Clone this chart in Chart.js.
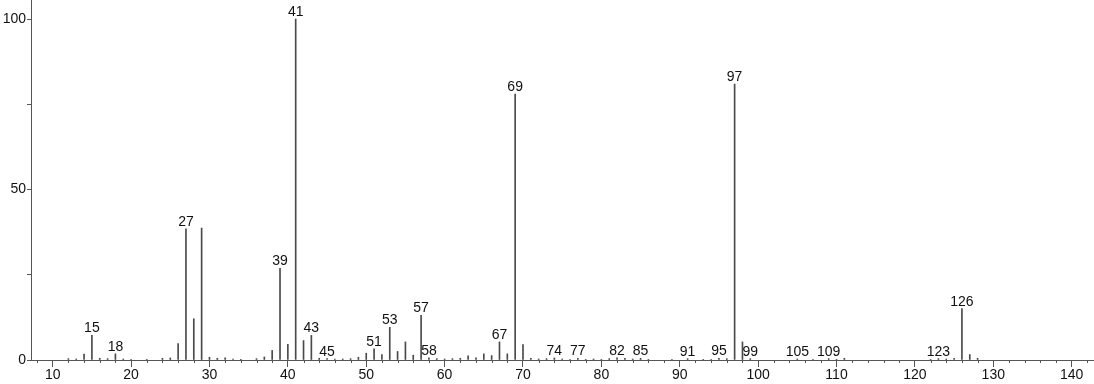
<!DOCTYPE html>
<html>
<head>
<meta charset="utf-8">
<script src="https://cdn.jsdelivr.net/npm/chart.js@4/dist/chart.umd.min.js"></script>
<style>
  body { margin: 0; background: #fff; }
  #wrap { width: 1094px; height: 384px; position: relative; }
</style>
</head>
<body>
<div id="wrap"><canvas id="spectrum"></canvas></div>
<script>
// m/z values and relative intensities
const mz = [12, 13, 14, 15, 16, 17, 18, 19, 20, 22, 24, 25, 26, 27, 28, 29, 30, 31, 32, 33,
            34, 36, 37, 38, 39, 40, 41, 42, 43, 44, 45, 46, 47, 48, 49, 50, 51, 52, 53, 54,
            55, 56, 57, 58, 59, 60, 61, 62, 63, 64, 65, 66, 67, 68, 69, 70, 71, 72, 73, 74,
            75, 76, 77, 78, 79, 80, 81, 82, 83, 84, 85, 86, 89, 91, 93, 94, 95, 96, 97, 98,
            99, 105, 107, 109, 110, 111, 122, 123, 124, 125, 126, 127, 128];
const intensity = [0.4, 0.3, 1.7, 7.2, 0.5, 0.4, 1.8, 0.3, 0.2, 0.2, 0.5, 0.6, 4.8, 38.5, 12.1, 38.7, 0.8, 0.5, 0.6, 0.3,
                   0.2, 0.4, 0.9, 2.8, 26.9, 4.6, 100, 5.7, 7.2, 0.5, 0.4, 0.3, 0.3, 0.4, 0.8, 2.0, 3.3, 1.6, 9.6, 2.5,
                   5.3, 1.4, 13.1, 0.6, 0.4, 0.3, 0.4, 0.5, 1.2, 0.6, 1.8, 1.3, 5.3, 1.8, 78.0, 4.5, 0.5, 0.3, 0.4, 0.6,
                   0.3, 0.2, 0.5, 0.2, 0.3, 0.2, 0.4, 0.6, 0.5, 0.3, 0.5, 0.2, 0.2, 0.4, 0.2, 0.2, 0.5, 0.4, 80.9, 5.3,
                   0.4, 0.3, 0.2, 0.4, 0.2, 0.5, 0.2, 0.4, 0.3, 0.5, 15.1, 1.6, 0.5];
const labeledPeaks = [15, 18, 27, 39, 41, 43, 45, 51, 53, 57, 58, 67, 69, 74, 77, 82, 85, 91, 95, 97, 99, 105, 109, 123, 126];
const yTickLabels = [0, 50, 100];

const AXIS = '#555';
const FONT = '14px "Liberation Sans", Arial, sans-serif';

const peakLabels = {
    id: 'peakLabels',
    afterDatasetsDraw(chart) {
        const { ctx, scales: { x, y } } = chart;
        ctx.save();
        ctx.font = FONT;
        ctx.fillStyle = '#111';
        ctx.textAlign = 'center';
        ctx.textBaseline = 'alphabetic';
        labeledPeaks.forEach(m => {
            const i = mz.indexOf(m);
            const v = i >= 0 ? intensity[i] : 0;
            ctx.fillText(String(m), x.getPixelForValue(m), y.getPixelForValue(v) - 3);
        });
        ctx.restore();
    }
};

// minor ticks every 2 units on the m/z axis
const minorTicks = {
    id: 'minorTicks',
    afterDraw(chart) {
        const { ctx, scales: { x, y } } = chart;
        const base = y.getPixelForValue(0);
        ctx.save();
        ctx.strokeStyle = AXIS;
        ctx.lineWidth = 1;
        ctx.beginPath();
        for (let v = Math.ceil(x.min / 2) * 2; v <= x.max; v += 2) {
            if (v % 10 === 0) continue;
            const px = Math.round(x.getPixelForValue(v)) + 0.5;
            ctx.moveTo(px, base);
            ctx.lineTo(px, base + 3);
        }
        ctx.stroke();
        ctx.restore();
    }
};

new Chart(document.getElementById('spectrum'), {
    type: 'bar',
    data: {
        datasets: [{
            data: mz.map((m, i) => ({ x: m, y: intensity[i] })),
            backgroundColor: '#4a4a4a',
            barThickness: 1,
            borderWidth: 0
        }]
    },
    options: {
        responsive: true,
        maintainAspectRatio: false,
        animation: false,
        layout: { padding: 0 },
        plugins: { legend: { display: false }, tooltip: { enabled: false } },
        scales: {
            x: {
                type: 'linear',
                offset: false,
                min: 7.23,
                max: 142.85,
                grid: {
                    offset: false,
                    drawOnChartArea: false,
                    tickLength: 7,
                    tickColor: c => (c.tick && c.tick.value % 10 === 0) ? AXIS : 'rgba(0,0,0,0)'
                },
                border: { color: AXIS, width: 1 },
                ticks: {
                    stepSize: 10,
                    includeBounds: false,
                    autoSkip: false,
                    maxRotation: 0,
                    padding: 0,
                    color: '#111',
                    font: { family: '"Liberation Sans", Arial, sans-serif', size: 14 },
                    callback: v => v % 10 === 0 ? String(v) : ''
                },
                afterFit: s => { s.height = 24; s.paddingLeft = 0; s.paddingRight = 0; }
            },
            y: {
                min: 0,
                max: 105.6,
                grid: {
                    drawOnChartArea: false,
                    tickLength: 4,
                    tickColor: c => (c.tick && c.tick.value % 25 === 0) ? AXIS : 'rgba(0,0,0,0)'
                },
                border: { color: AXIS, width: 1 },
                ticks: {
                    stepSize: 25,
                    includeBounds: false,
                    padding: 1,
                    color: '#111',
                    font: { family: '"Liberation Sans", Arial, sans-serif', size: 14 },
                    callback: v => yTickLabels.includes(v) ? String(v) : ''
                },
                afterFit: s => { s.width = 31; s.paddingTop = 0; s.paddingBottom = 0; }
            }
        }
    },
    plugins: [peakLabels, minorTicks]
});
</script>
</body>
</html>
